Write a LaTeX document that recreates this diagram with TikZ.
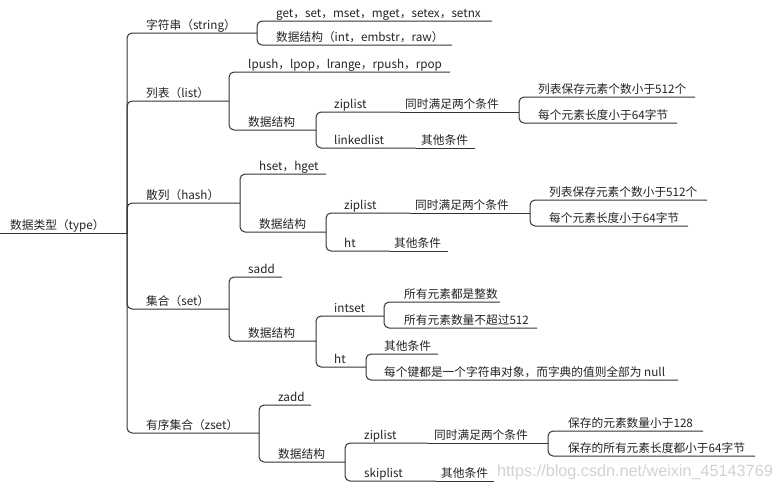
\documentclass[tikz,border=0pt]{standalone}
\usepackage{fontspec}
\setmainfont{Noto Sans CJK SC}
\newfontfamily\wmfont{Liberation Sans}
\definecolor{linec}{HTML}{333333}
\definecolor{textc}{HTML}{222222}
\definecolor{wmc}{HTML}{D2D2D2}
\tikzset{
  lbl/.style={anchor=base west, inner sep=0pt, text=textc, font=\fontsize{11.7}{13}\selectfont},
  conn/.style={draw=linec, line width=1pt, rounded corners=5pt},
}
% #1 parent, #2 name, #3 text x, #4 line y, #5 line end x, #6 text
\newcommand\mmbranch[6]{%
  \coordinate (#2-e) at (#5,#4);
  \node[lbl] (#2) at (#3,#4-3.5) {#6};
  \draw[conn] (#1-e) |- (#2-e);
}
% same-level continuation (straight line)
\newcommand\mmchain[6]{%
  \coordinate (#2-e) at (#5,#4);
  \node[lbl] (#2) at (#3,#4-3.5) {#6};
  \draw[conn] (#1-e) -- (#2-e);
}
\begin{document}
\begin{tikzpicture}[x=1pt,y=-1pt]
\useasboundingbox (0,0) rectangle (782,488);
% root
\coordinate (root-s) at (0,233);
\coordinate (root-e) at (127,233);
\node[lbl] (root) at (10,229.5) {数据类型（type）};
\draw[conn] (root-s) -- (root-e);
% level 1
\mmbranch{root}{str}{146}{33}{257}{字符串（string）}
\mmbranch{root}{list}{146}{101}{229}{列表（list）}
\mmbranch{root}{hash}{146}{203}{240}{散列（hash）}
\mmbranch{root}{set}{146}{309}{229}{集合（set）}
\mmbranch{root}{zset}{146}{433}{259}{有序集合（zset）}
% string
\mmbranch{str}{strops}{276}{21}{492}{get，set，mset，mget，setex，setnx}
\mmbranch{str}{strds}{276}{45}{452}{数据结构（int，embstr，raw）}
% list
\mmbranch{list}{listops}{248}{72}{450}{lpush，lpop，lrange，rpush，rpop}
\mmbranch{list}{listds}{248}{130}{316}{数据结构}
\mmbranch{listds}{lzip}{334}{112}{400}{ziplist}
\mmchain{lzip}{lzipc}{405}{112}{519}{同时满足两个条件}
\mmbranch{listds}{llink}{334}{148}{416}{linkedlist}
\mmchain{llink}{llinkc}{421}{148}{475}{其他条件}
\mmbranch{lzipc}{lc1}{538}{97}{695}{列表保存元素个数小于512个}
\mmbranch{lzipc}{lc2}{538}{123}{677}{每个元素长度小于64字节}
% hash
\mmbranch{hash}{hashops}{259}{174}{326}{hset，hget}
\mmbranch{hash}{hashds}{259}{232}{326}{数据结构}
\mmbranch{hashds}{hzip}{344}{213}{410}{ziplist}
\mmchain{hzip}{hzipc}{415}{213}{530}{同时满足两个条件}
\mmbranch{hashds}{hht}{344}{251}{390}{ht}
\mmchain{hht}{hhtc}{394}{251}{448}{其他条件}
\mmbranch{hzipc}{hc1}{549}{200}{707}{列表保存元素个数小于512个}
\mmbranch{hzipc}{hc2}{549}{226}{688}{每个元素长度小于64字节}
% set
\mmbranch{set}{setops}{248}{277}{282}{sadd}
\mmbranch{set}{setds}{248}{341}{316}{数据结构}
\mmbranch{setds}{sint}{334}{316}{384}{intset}
\mmbranch{setds}{sht}{334}{367}{366}{ht}
\mmbranch{sint}{si1}{404}{302}{500}{所有元素都是整数}
\mmbranch{sint}{si2}{404}{328}{537}{所有元素数量不超过512}
\mmbranch{sht}{sh1}{384}{354}{438}{其他条件}
\mmbranch{sht}{sh2}{384}{380}{678}{每个键都是一个字符串对象，而字典的值则全部为 null}
% zset
\mmbranch{zset}{zops}{278}{405}{311}{zadd}
\mmbranch{zset}{zds}{278}{462}{345}{数据结构}
\mmbranch{zds}{zzip}{364}{443}{428}{ziplist}
\mmchain{zzip}{zzipc}{434}{443}{548}{同时满足两个条件}
\mmbranch{zds}{zskip}{364}{481}{436}{skiplist}
\mmchain{zskip}{zskipc}{441}{481}{494}{其他条件}
\mmbranch{zzipc}{zc1}{568}{431}{703}{保存的元素数量小于128}
\mmbranch{zzipc}{zc2}{568}{456}{755}{保存的所有元素长度都小于64字节}
% watermark
\node[anchor=base west, inner sep=0pt, text=wmc, font=\wmfont\fontsize{16.2}{18}\selectfont] (wm) at (497,476) {https://blog.csdn.net/weixin\_45143769};
\end{tikzpicture}
\end{document}
